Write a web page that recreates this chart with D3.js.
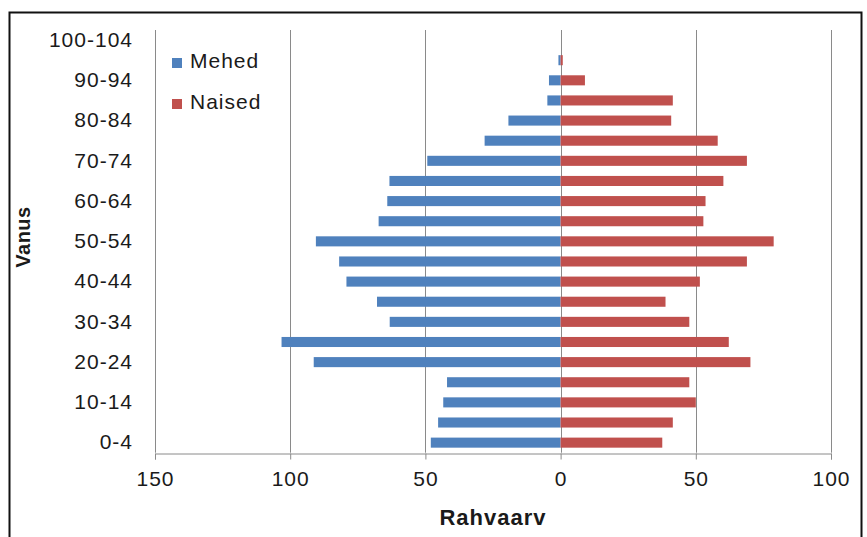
<!DOCTYPE html>
<html>
<head>
<meta charset="utf-8">
<script src="https://cdn.jsdelivr.net/npm/d3@7/dist/d3.min.js"></script>
<style>
  html, body { margin: 0; padding: 0; background: #fff; }
  svg text { font-family: "Liberation Sans", Arial, sans-serif; fill: #1a1a1a; }
</style>
</head>
<body>
<svg id="chart" width="867" height="537"></svg>
<script>
const ageGroups = ["0-4","5-9","10-14","15-19","20-24","25-29","30-34","35-39","40-44","45-49","50-54","55-59","60-64","65-69","70-74","75-79","80-84","85-89","90-94","95-99","100-104"];
const men   = [48, 45.3, 43.4, 42, 91.3, 103.2, 63.2, 67.9, 79.2, 81.9, 90.5, 67.3, 64.1, 63.3, 49.3, 28.1, 19.3, 4.9, 4.3, 0.8, 0];
const women = [37.6, 41.5, 50, 47.6, 70.2, 62.2, 47.6, 38.8, 51.5, 68.9, 78.8, 52.8, 53.6, 60.2, 68.9, 58.1, 40.9, 41.5, 9, 0.8, 0];
const xTicks = [-150, -100, -50, 0, 50, 100];
const seriesNames = ["Mehed", "Naised"];
const colors = ["#4F81BD", "#C0504D"];

const svg = d3.select("#chart");
const plotL = 155, plotR = 831, plotT = 30, plotB = 452.7;

// frame
svg.append("rect").attr("x", 9.5).attr("y", 12.5).attr("width", 852).attr("height", 540)
  .attr("fill", "none").attr("stroke", "#111").attr("stroke-width", 2);

const x = d3.scaleLinear().domain([-150, 100]).range([plotL, plotR]);
const y = d3.scaleBand().domain(ageGroups.slice().reverse()).range([plotT, plotB])
  .paddingInner(0.5).paddingOuter(0.25);

// gridlines
svg.append("g").selectAll("line").data(xTicks).join("line")
  .attr("x1", d => Math.round(x(d)) + 0.5).attr("x2", d => Math.round(x(d)) + 0.5)
  .attr("y1", plotT).attr("y2", plotB)
  .attr("stroke", "#8a8a8a").attr("stroke-width", 1);

// bars
const rows = ageGroups.map((a, i) => ({ age: a, m: men[i], w: women[i] }));
svg.append("g").selectAll("rect").data(rows).join("rect")
  .attr("x", d => x(-d.m)).attr("width", d => x(0) - x(-d.m))
  .attr("y", d => y(d.age)).attr("height", y.bandwidth())
  .attr("fill", colors[0]);
svg.append("g").selectAll("rect").data(rows).join("rect")
  .attr("x", x(0)).attr("width", d => x(d.w) - x(0))
  .attr("y", d => y(d.age)).attr("height", y.bandwidth())
  .attr("fill", colors[1]);

// x axis
const xAxis = d3.axisBottom(x).tickValues(xTicks).tickFormat(d => Math.abs(d)).tickSize(6).tickPadding(12);
const gx = svg.append("g").attr("transform", `translate(0,${Math.round(plotB) + 0.5})`).call(xAxis);
gx.select(".domain").attr("stroke", "#8a8a8a");
gx.selectAll(".tick line").attr("stroke", "#8a8a8a");
gx.selectAll(".tick text").attr("font-size", 21).attr("letter-spacing", "1px")
  .attr("font-family", "'Liberation Sans', Arial, sans-serif").attr("fill", "#1a1a1a");

// y axis labels
const yAxis = d3.axisLeft(y).tickValues(ageGroups.filter((d, i) => i % 2 === 0)).tickSize(0).tickPadding(22);
const gy = svg.append("g").attr("transform", `translate(${plotL},0)`).call(yAxis);
gy.select(".domain").remove();
gy.selectAll(".tick text").attr("font-size", 21).attr("letter-spacing", "1px")
  .attr("font-family", "'Liberation Sans', Arial, sans-serif").attr("fill", "#1a1a1a");

// axis titles
svg.append("text").attr("x", 493).attr("y", 525).attr("text-anchor", "middle")
  .attr("font-size", 22).attr("font-weight", "bold").attr("letter-spacing", "1px").text("Rahvaarv");
svg.append("text").attr("transform", "translate(30,237) rotate(-90)").attr("text-anchor", "middle")
  .attr("font-size", 20).attr("font-weight", "bold").attr("letter-spacing", "0.5px").text("Vanus");

// legend
const lg = svg.append("g");
seriesNames.forEach((s, i) => {
  lg.append("rect").attr("x", 172).attr("y", 58 + i * 41).attr("width", 10).attr("height", 10).attr("fill", colors[i]);
  lg.append("text").attr("x", 190).attr("y", 68 + i * 41).attr("font-size", 21).attr("letter-spacing", "1px").text(s);
});
</script>
</body>
</html>
